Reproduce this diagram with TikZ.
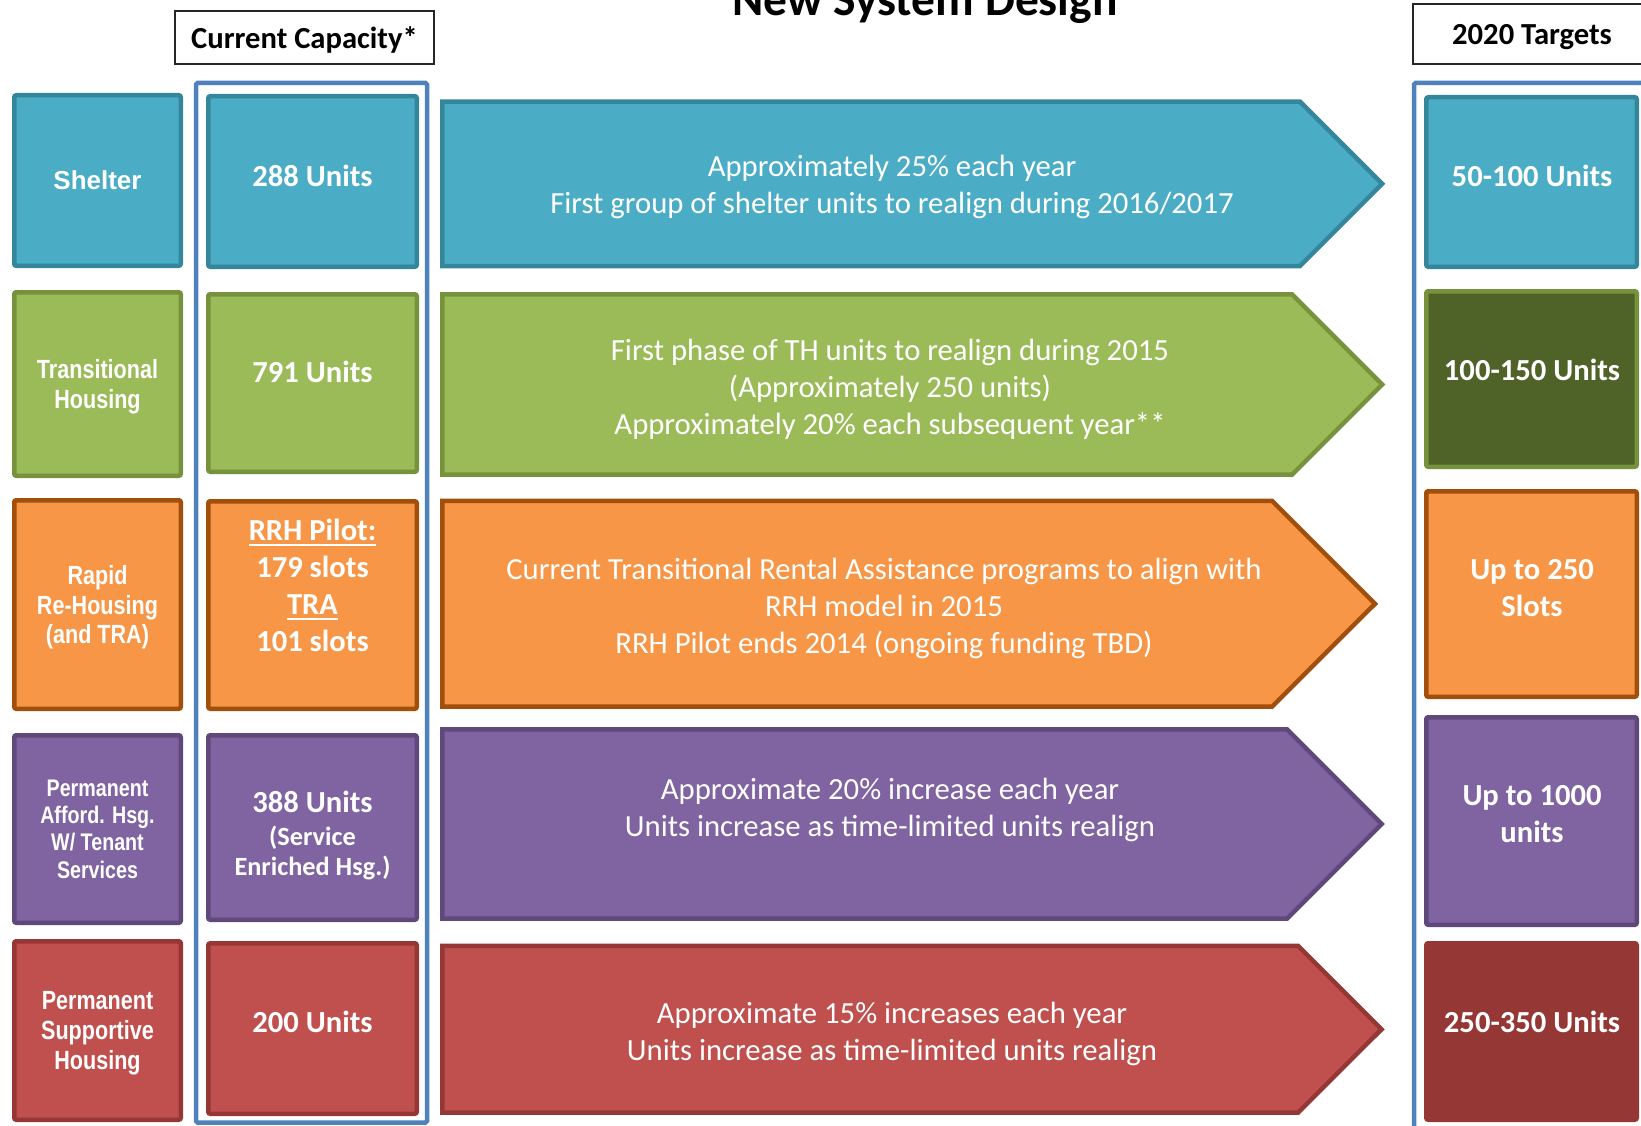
\documentclass[tikz,border=0pt]{standalone}
\usepackage{fontspec}
\newfontfamily\calfont{Carlito}
\newfontfamily\arialfont{Liberation Sans}
\newfontfamily\narrowfont[FakeStretch=0.82]{Liberation Sans}

\definecolor{tealfill}{HTML}{4BACC6}
\definecolor{tealline}{HTML}{34869B}
\definecolor{greenfill}{HTML}{9BBB59}
\definecolor{greenline}{HTML}{76923C}
\definecolor{orangefill}{HTML}{F79646}
\definecolor{orangeline}{HTML}{A24F0C}
\definecolor{purplefill}{HTML}{8064A2}
\definecolor{purpleline}{HTML}{5F497A}
\definecolor{redfill}{HTML}{C0504D}
\definecolor{redline}{HTML}{953735}
\definecolor{darkgreen}{HTML}{4F6228}
\definecolor{darkred}{HTML}{953735}
\definecolor{frameblue}{HTML}{4F81BD}

\newsavebox\ulbox
\newcommand{\ulined}[1]{\sbox\ulbox{#1}\rlap{\rule[-5.7pt]{\wd\ulbox}{2.4pt}}\usebox\ulbox}

\tikzset{
  cell/.style={draw, line width=4.5pt, rounded corners=2pt, inner sep=0pt},
  rowcell/.style={cell, minimum width=166.5pt, text=white, align=center,
    font=\narrowfont\bfseries\fontsize{26.3}{29.8}\selectfont},
  capcell/.style={cell, minimum width=208.5pt},
  goalcell/.style={cell, minimum width=210.5pt},
  celltext/.style={text=white, align=center, inner sep=0pt,
    font=\calfont\bfseries\fontsize{30.6}{36.6}\selectfont},
  chevron/.style={line width=4.5pt, line join=miter},
  chevrontext/.style={text=white, align=center, inner sep=0pt,
    font=\calfont\fontsize{30.7}{37}\selectfont},
  frame/.style={draw=frameblue, line width=4.5pt, rounded corners=1.5pt},
  header/.style={draw=black!85, line width=2pt, fill=white, inner sep=0pt, text depth=0pt,
    font=\calfont\bfseries\fontsize{30.6}{36.6}\selectfont},
}

\begin{document}
\begin{tikzpicture}[x=1pt,y=-1pt]
\path[use as bounding box] (0,0) rectangle (1641,1126);
\clip (0,0) rectangle (1641,1126);

% title and column heads
\node[anchor=base, font=\calfont\bfseries\fontsize{47.5}{56}\selectfont] (title) at (925,16) {New System Design};
\node[header, minimum width=259pt, minimum height=53pt] (curhead) at (304.5,37.5) {Current Capacity*};
\node[header, minimum width=238pt, minimum height=60pt] (goalhead) at (1532,34.5) {2020 Targets};

% blue frames round the two columns
\draw[frame] (196,83) rectangle (427,1122.5);
\draw[frame] (1414,83) rectangle (1700,1200);

% row labels
\node[rowcell, fill=tealfill, draw=tealline, minimum height=170.5pt,
  font=\arialfont\bfseries\fontsize{26}{29.8}\selectfont] (shelter) at (97.5,180.5) {Shelter};
\node[rowcell, fill=greenfill, draw=greenline, minimum height=183.5pt, text depth=0pt] (transitional) at (97.5,384) {Transitional\\Housing};
\node[rowcell, fill=orangefill, draw=orangeline, minimum height=208.5pt, text depth=0pt] (rapid) at (97.5,604.5) {Rapid\\Re-Housing\\(and TRA)};
\node[rowcell, fill=purplefill, draw=purpleline, minimum height=187.5pt,
  font=\narrowfont\bfseries\fontsize{24}{27.3}\selectfont] (afford) at (97.5,829) {Permanent\\Afford. Hsg.\\W/ Tenant\\Services};
\node[rowcell, fill=redfill, draw=redline, minimum height=178.5pt, text depth=0pt] (supportive) at (97.5,1030.5) {Permanent\\Supportive\\Housing};

% current capacity
\node[capcell, fill=tealfill, draw=tealline, minimum height=170.5pt] (cap1) at (312.5,181.5) {};
\node[celltext] (cap1txt) at (312.5,175.5) {288 Units};
\node[capcell, fill=greenfill, draw=greenline, minimum height=177.5pt] (cap2) at (312.5,383) {};
\node[celltext] (cap2txt) at (312.5,372) {791 Units};
\node[capcell, fill=orangefill, draw=orangeline, minimum height=207.5pt] (cap3) at (312.5,605) {};
\node[celltext, font=\calfont\bfseries\fontsize{30.6}{37.2}\selectfont] (cap3txt) at (312.5,585.5)
  {\ulined{RRH Pilot:}\\179 slots\\\ulined{TRA}\\101 slots};
\node[capcell, fill=purplefill, draw=purpleline, minimum height=184.5pt] (cap4) at (312.5,827.5) {};
\node[celltext, font=\calfont\bfseries\fontsize{26.3}{30.6}\selectfont] (cap4txt) at (312.5,835.5)
  {{\fontsize{30.6}{36.6}\selectfont 388 Units}\\[2.4pt](Service\\Enriched Hsg.)};
\node[capcell, fill=redfill, draw=redline, minimum height=170.5pt] (cap5) at (312.5,1028.5) {};
\node[celltext] (cap5txt) at (312.5,1022) {200 Units};

% realignment arrows
\draw[chevron, fill=tealfill, draw=tealline] (442.3,101.6) -- (1300,101.6) -- (1382.2,183.8) -- (1300,266) -- (442.3,266) -- cycle;
\node[chevrontext] (plan1) at (892,187) {Approximately 25\% each year\\First group of shelter units to realign during 2016/2017};
\draw[chevron, fill=greenfill, draw=greenline] (442.3,294.3) -- (1292,294.3) -- (1382.2,384.5) -- (1292,474.7) -- (442.3,474.7) -- cycle;
\node[chevrontext] (plan2) at (890,389.5) {First phase of TH units to realign during 2015\\(Approximately 250 units)\\Approximately 20\% each subsequent year**};
\draw[chevron, fill=orangefill, draw=orangeline] (442.3,500.8) -- (1272,500.8) -- (1375,603.8) -- (1272,706.7) -- (442.3,706.7) -- cycle;
\node[chevrontext] (plan3) at (884,608) {Current Transitional Rental Assistance programs to align with\\RRH model in 2015\\RRH Pilot ends 2014 (ongoing funding TBD)};
\draw[chevron, fill=purplefill, draw=purpleline] (442.3,729.3) -- (1287,729.3) -- (1381.7,824) -- (1287,918.7) -- (442.3,918.7) -- cycle;
\node[chevrontext] (plan4) at (890,809.5) {Approximate 20\% increase each year\\Units increase as time-limited units realign};
\draw[chevron, fill=redfill, draw=redline] (442.3,945.8) -- (1298,945.8) -- (1381.5,1029.3) -- (1298,1112.7) -- (442.3,1112.7) -- cycle;
\node[chevrontext] (plan5) at (892,1034) {Approximate 15\% increases each year\\Units increase as time-limited units realign};

% 2020 targets
\node[goalcell, fill=tealfill, draw=tealline, minimum height=169.5pt] (goal1) at (1531.5,182) {};
\node[celltext] (goal1txt) at (1532,175.5) {50-100 Units};
\node[goalcell, fill=darkgreen, draw=greenline, minimum height=175.5pt] (goal2) at (1531.5,379) {};
\node[celltext] (goal2txt) at (1532,370) {100-150 Units};
\node[goalcell, fill=orangefill, draw=orangeline, minimum height=205.5pt] (goal3) at (1531.5,594) {};
\node[celltext, font=\calfont\bfseries\fontsize{30.6}{37}\selectfont] (goal3txt) at (1532,588.5) {Up to 250\\Slots};
\node[goalcell, fill=purplefill, draw=purpleline, minimum height=207.5pt] (goal4) at (1531.5,821) {};
\node[celltext, font=\calfont\bfseries\fontsize{30.6}{37}\selectfont] (goal4txt) at (1532,814.5) {Up to 1000\\units};
\node[goalcell, fill=darkred, draw=darkred, minimum height=176.5pt] (goal5) at (1531.5,1031.5) {};
\node[celltext] (goal5txt) at (1532,1022) {250-350 Units};
\end{tikzpicture}
\end{document}
